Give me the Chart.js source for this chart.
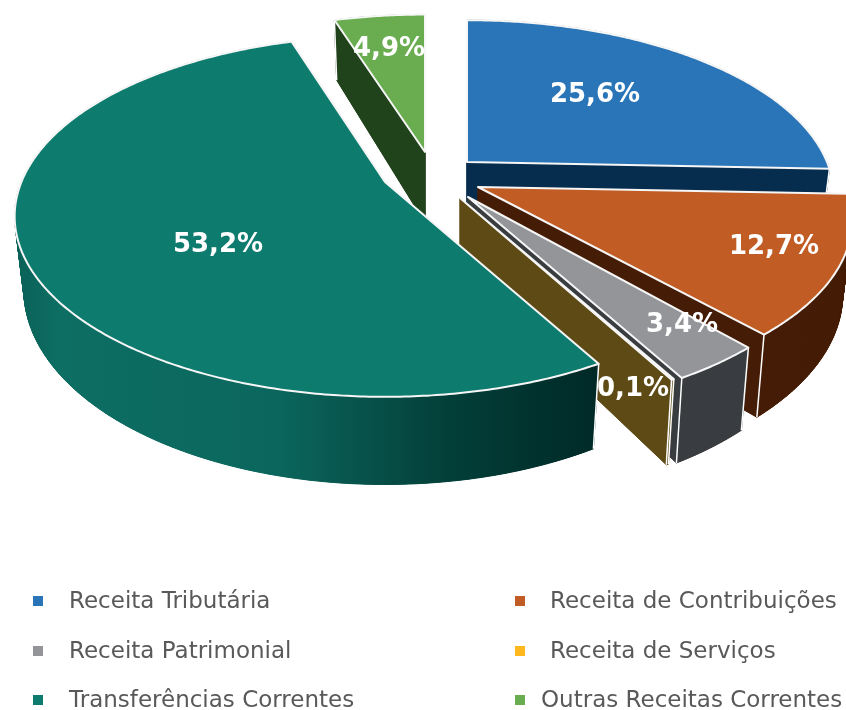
<!DOCTYPE html>
<html lang="pt">
<head>
<meta charset="utf-8">
<title>Receitas</title>
<script src="https://cdn.jsdelivr.net/npm/chart.js@4"></script>
<style>
  html, body { margin: 0; background: #fff; }
  #wrap { position: relative; width: 846px; height: 710px; overflow: hidden; }
  #legend span { position: absolute; white-space: nowrap; }
  #legend .text { font: 23px "DejaVu Sans", sans-serif; color: #595959; line-height: 26px; }
  #legend .box { width: 10px; height: 10px; }
</style>
</head>
<body>
<div id="wrap">
  <canvas id="pieChart" width="846" height="710"></canvas>
  <div id="legend"></div>
</div>
<script>
const labels = ['Receita Tributária', 'Receita de Contribuições', 'Receita Patrimonial', 'Receita de Serviços', 'Transferências Correntes', 'Outras Receitas Correntes'];
const values = [25.6, 12.7, 3.4, 0.1, 53.2, 4.9];
const topColors = ['#2a75b7', '#c05c24', '#939598', '#fdb81e', '#0e7b6f', '#6aad51'];
const wallColors = ['#062c4e', '#451c05', '#3a3d40', '#5e4a14', null, '#21431c'];

// where each exploded slice sits (tip of the wedge) and its x/y size, back to front
const sliceTips = [[467, 162, 1, 0.97], [478, 187, 1.02, 0.98], [468, 197, 1, 1], [460, 198, 1, 1], [385, 182, 1.01, 1], [425, 152, 0.98, 0.94]];
const drawOrder = [5, 0, 1, 2, 3, 4];
const labelSpots = [[595, 95], [774, 247], [682, 325], [633, 389], [218, 245], [389, 49]];

// legend layout
const legendBoxes = [[33, 596], [515, 596], [33, 646], [515, 646], [33, 695], [515, 695]];
const legendTexts = [[69, 600], [550, 600], [69, 650], [550, 650], [69, 699], [541, 699]];

// camera for the tilted pie
const camX = 360, camY = 174, camP = 0.19, wallH = 71, wallShrink = 0.975;

function project(tip, u, v, lower) {
  const w = 1 - camP * v;
  if (lower) return [tip[0] + tip[2] * camX * wallShrink * u / w, tip[1] + (tip[3] * camY * v + wallH) / w];
  return [tip[0] + tip[2] * camX * u / w, tip[1] + tip[3] * camY * v / w];
}

function outline(arc) {
  const n = Math.ceil((arc.endAngle - arc.startAngle) / 0.01) + 1;
  const pts = [];
  for (let i = 0; i <= n; i++) {
    const a = arc.startAngle + (arc.endAngle - arc.startAngle) * i / n;
    pts.push([Math.cos(a), Math.sin(a)]);
  }
  return pts;
}

function tracePoly(ctx, pts) {
  ctx.beginPath();
  pts.forEach((p, i) => (i ? ctx.lineTo(p[0], p[1]) : ctx.moveTo(p[0], p[1])));
  ctx.closePath();
}

function tealWall(ctx) {
  const g = ctx.createLinearGradient(12, 0, 593, 0);
  g.addColorStop(0, '#0a5f56');
  g.addColorStop(0.08, '#0d6e63');
  g.addColorStop(0.45, '#0b675d');
  g.addColorStop(0.75, '#033f39');
  g.addColorStop(1, '#002a27');
  return g;
}

const pie3d = {
  id: 'pie3d',
  beforeDatasetsDraw(chart) {
    const ctx = chart.ctx;
    const arcs = chart.getDatasetMeta(0).data;
    drawOrder.forEach(i => {
      const arc = arcs[i];
      const tip = sliceTips[i];
      const rim = outline(arc);
      const ring = [[0, 0]].concat(rim);
      const wall = wallColors[i] || tealWall(ctx);

      ctx.save();
      ctx.fillStyle = wall;
      ctx.strokeStyle = wall;
      ctx.lineWidth = 1;
      ctx.lineJoin = 'round';
      // underside, then the side faces
      tracePoly(ctx, ring.map(p => project(tip, p[0], p[1], true)));
      ctx.fill();
      for (let k = 0; k < ring.length; k++) {
        const a = ring[k], b = ring[(k + 1) % ring.length];
        tracePoly(ctx, [project(tip, a[0], a[1]), project(tip, b[0], b[1]), project(tip, b[0], b[1], true), project(tip, a[0], a[1], true)]);
        ctx.fill();
        ctx.stroke();
      }
      // white corners of the wall
      ctx.strokeStyle = '#fff';
      ctx.lineWidth = 1.5;
      [rim[0], rim[rim.length - 1]].forEach(p => {
        const t = project(tip, p[0], p[1]), d = project(tip, p[0], p[1], true);
        ctx.beginPath();
        ctx.moveTo(t[0], t[1]);
        ctx.lineTo(d[0], d[1]);
        ctx.stroke();
      });
      // top face
      tracePoly(ctx, ring.map(p => project(tip, p[0], p[1])));
      ctx.fillStyle = arc.options.backgroundColor;
      ctx.fill();
      ctx.strokeStyle = arc.options.borderColor;
      ctx.lineWidth = arc.options.borderWidth;
      ctx.stroke();
      ctx.restore();
    });

    ctx.save();
    ctx.fillStyle = '#fff';
    ctx.font = 'bold 26px "DejaVu Sans", sans-serif';
    ctx.textAlign = 'center';
    ctx.textBaseline = 'middle';
    values.forEach((v, i) => {
      ctx.fillText(v.toFixed(1).replace('.', ',') + '%', labelSpots[i][0], labelSpots[i][1]);
    });
    ctx.restore();
    return false;
  }
};

new Chart(document.getElementById('pieChart').getContext('2d'), {
  type: 'pie',
  data: {
    labels,
    datasets: [{ data: values, backgroundColor: topColors, borderColor: '#f6f6f6', borderWidth: 2 }]
  },
  options: {
    responsive: false,
    animation: false,
    plugins: { legend: { display: false }, tooltip: { enabled: false } }
  },
  plugins: [pie3d]
});

// Legend in two columns
const legend = document.getElementById('legend');
labels.forEach((name, i) => {
  const box = document.createElement('span');
  box.className = 'box';
  box.style.left = legendBoxes[i][0] + 'px';
  box.style.top = legendBoxes[i][1] + 'px';
  box.style.background = topColors[i];
  legend.appendChild(box);
  const text = document.createElement('span');
  text.className = 'text';
  text.textContent = name;
  text.style.left = legendTexts[i][0] + 'px';
  text.style.top = (legendTexts[i][1] - 13) + 'px';
  legend.appendChild(text);
});
</script>
</body>
</html>
